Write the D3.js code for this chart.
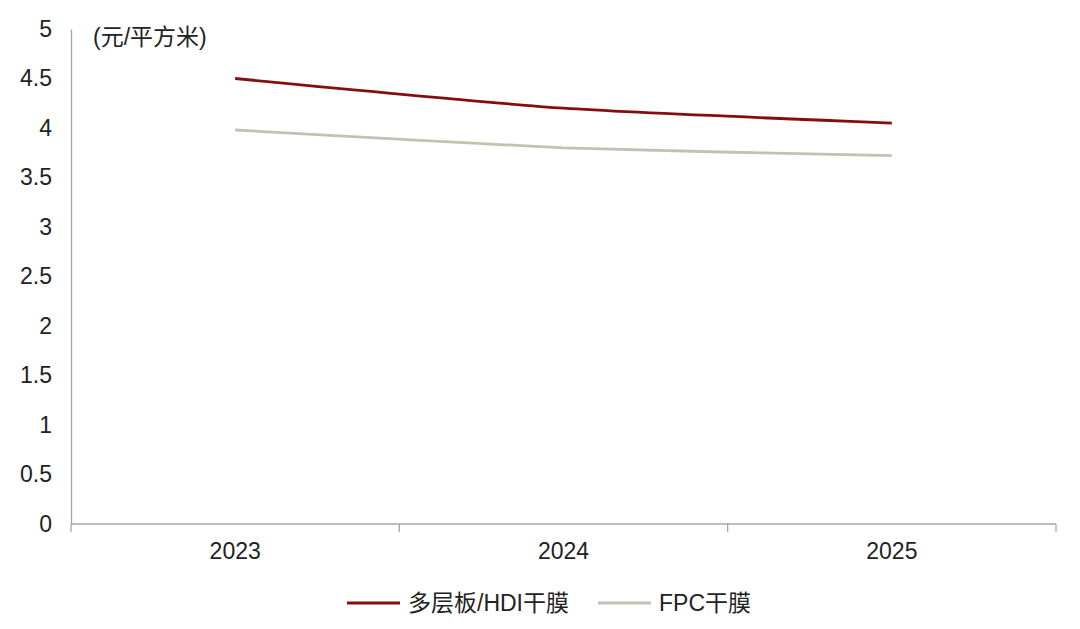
<!DOCTYPE html>
<html>
<head>
<meta charset="utf-8">
<script src="https://cdn.jsdelivr.net/npm/d3@7"></script>
<style>
  body { margin: 0; background: #fff; }
  text { font-family: "Liberation Sans", Arial, "Noto Sans CJK SC", sans-serif; fill: #222; }
</style>
</head>
<body>
<div id="chart"></div>
<script>
'use strict'

// data
const years = ['2023', '2024', '2025']
const multilayer = [4.5, 4.2, 4.05]
const fpc = [3.98, 3.8, 3.72]
const yTicks = [0, 0.5, 1, 1.5, 2, 2.5, 3, 3.5, 4, 4.5, 5]
const seriesNames = ['多层板/HDI干膜', 'FPC干膜']
const unitLabel = '(元/平方米)'

const svgWidth = 1080, svgHeight = 629
const margin = { left: 71, right: 24, top: 29, bottom: 105 }
const width = svgWidth - margin.left - margin.right
const height = svgHeight - margin.top - margin.bottom
const fontSize = '23px'

const svg = d3.select('#chart')
    .append('svg')
    .attr('width', svgWidth)
    .attr('height', svgHeight)

const g = svg.append('g')
    .attr('transform', `translate(${margin.left},${margin.top})`)

const x = d3.scaleBand().domain(years).range([0, width]).padding(0)
const y = d3.scaleLinear().domain([0, 5]).range([height, 0])

// y axis: line only, labels on left
const yAxis = g.append('g')
    .call(d3.axisLeft(y).tickValues(yTicks).tickSize(0).tickPadding(19).tickFormat(d3.format('')))
yAxis.select('.domain').attr('stroke', '#a6a6a6').attr('stroke-width', 1.3)
yAxis.selectAll('text').style('font-size', fontSize).attr('fill', '#222')

// x axis with tick marks between categories
const xAxis = g.append('g')
    .attr('transform', `translate(0,${height})`)
    .call(d3.axisBottom(x).tickSize(0).tickPadding(19))
xAxis.select('.domain').remove()
xAxis.selectAll('text').style('font-size', fontSize).attr('fill', '#222')

g.append('line')
    .attr('x1', 0).attr('x2', width)
    .attr('y1', height).attr('y2', height)
    .attr('stroke', '#a6a6a6').attr('stroke-width', 1.3)

const bounds = [x.range()[0]].concat(years.map(d => x(d) + x.bandwidth()))
g.selectAll('.xtick')
    .data(bounds)
    .join('line')
    .attr('class', 'xtick')
    .attr('x1', d => d).attr('x2', d => d)
    .attr('y1', height).attr('y2', height + 8)
    .attr('stroke', '#a6a6a6').attr('stroke-width', 1.3)

// unit
g.append('text')
    .attr('x', 22)
    .attr('y', 16)
    .style('font-size', fontSize)
    .text(unitLabel)

// lines
const series = [
    { name: seriesNames[0], values: multilayer, color: '#850d10' },
    { name: seriesNames[1], values: fpc, color: '#c3c2b2' }
]

const line = d3.line()
    .x((d, i) => x(years[i]) + x.bandwidth() / 2)
    .y(d => y(d))
    .curve(d3.curveCardinal.tension(0.4))

g.selectAll('.series')
    .data(series)
    .join('path')
    .attr('class', 'series')
    .attr('fill', 'none')
    .attr('stroke', d => d.color)
    .attr('stroke-width', 2.8)
    .attr('d', d => line(d.values))

// legend
const legendPos = [347, 598]
const legend = svg.selectAll('.legend')
    .data(series)
    .join('g')
    .attr('class', 'legend')
    .attr('transform', (d, i) => `translate(${legendPos[i]},603)`)

legend.append('line')
    .attr('x1', 0).attr('x2', 53)
    .attr('stroke', d => d.color)
    .attr('stroke-width', 3)

legend.append('text')
    .attr('x', 61)
    .attr('dy', '0.35em')
    .style('font-size', fontSize)
    .text(d => d.name)
</script>
</body>
</html>
